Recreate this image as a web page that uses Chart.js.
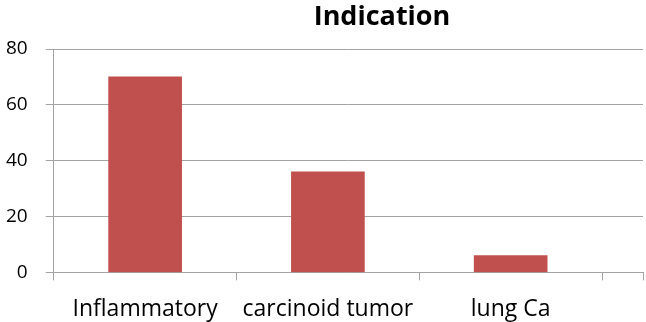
<!DOCTYPE html>
<html>
<head>
<meta charset="utf-8">
<script src="https://cdn.jsdelivr.net/npm/chart.js"></script>
<style>
  html, body { margin: 0; padding: 0; background: #fff; overflow: hidden; width: 646px; height: 322px; }
</style>
</head>
<body>
<!-- a bit wider than the window: the x axis keeps some room on its right end, which is cut off -->
<canvas id="myChart" width="658" height="322"></canvas>
<script>
const titleText = 'Indication';
const categories = ['Inflammatory', 'carcinoid tumor', 'lung Ca'];
const counts = [70, 36, 6];
const yTicks = [0, 20, 40, 60, 80];
// the axis runs a little past the last category, as in the picture
const axisEnd = 3.224;

const gridGrey = '#a3a3a3';

// bars sit in the middle of each category slot
const points = categories.map((c, i) => ({ x: i + 0.5, y: counts[i] }));

const titlePlugin = {
  id: 'offsetTitle',
  afterDraw(chart) {
    const ctx = chart.ctx;
    ctx.save();
    ctx.font = 'bold 27px "Open Sans"';
    ctx.fillStyle = '#000';
    ctx.textAlign = 'center';
    ctx.textBaseline = 'alphabetic';
    ctx.fillText(titleText, 382, 25);
    ctx.restore();
  }
};

function isLabelTick(v) {
  return Number.isInteger(v - 0.5);
}

new Chart(document.getElementById('myChart'), {
  type: 'bar',
  data: {
    datasets: [{
      label: titleText,
      data: points,
      backgroundColor: '#C0504D',
      borderWidth: 0,
      barThickness: 73
    }]
  },
  options: {
    responsive: false,
    animation: false,
    layout: { padding: { left: -12, right: -8, top: 49, bottom: -16 } },
    plugins: {
      legend: { display: false },
      title: { display: false },
      tooltip: { enabled: false }
    },
    scales: {
      x: {
        type: 'linear',
        offset: false,
        min: 0,
        max: axisEnd,
        afterBuildTicks(scale) {
          const t = [];
          for (let i = 0; i < categories.length; i++) {
            t.push({ value: i });
            t.push({ value: i + 0.5 });
          }
          t.push({ value: categories.length });
          t.push({ value: axisEnd });
          scale.ticks = t;
        },
        ticks: {
          autoSkip: false,
          maxRotation: 0,
          padding: 15,
          color: '#000',
          font: { family: '"Open Sans"', size: 23 },
          callback(value) {
            return isLabelTick(value) ? categories[value - 0.5] : '';
          }
        },
        grid: {
          offset: false,
          drawOnChartArea: false,
          tickLength: 8,
          tickColor(ctx) {
            if (ctx.tick && isLabelTick(ctx.tick.value)) return 'rgba(0,0,0,0)';
            return gridGrey;
          }
        },
        border: { display: true, color: gridGrey }
      },
      y: {
        min: yTicks[0],
        max: yTicks[yTicks.length - 1],
        afterBuildTicks(scale) {
          scale.ticks = yTicks.map(v => ({ value: v }));
        },
        ticks: {
          padding: 18,
          color: '#000',
          font: { family: '"Open Sans"', size: 19 }
        },
        grid: { color: gridGrey, tickLength: 8 },
        border: { color: gridGrey }
      }
    }
  },
  plugins: [titlePlugin]
});
</script>
</body>
</html>
